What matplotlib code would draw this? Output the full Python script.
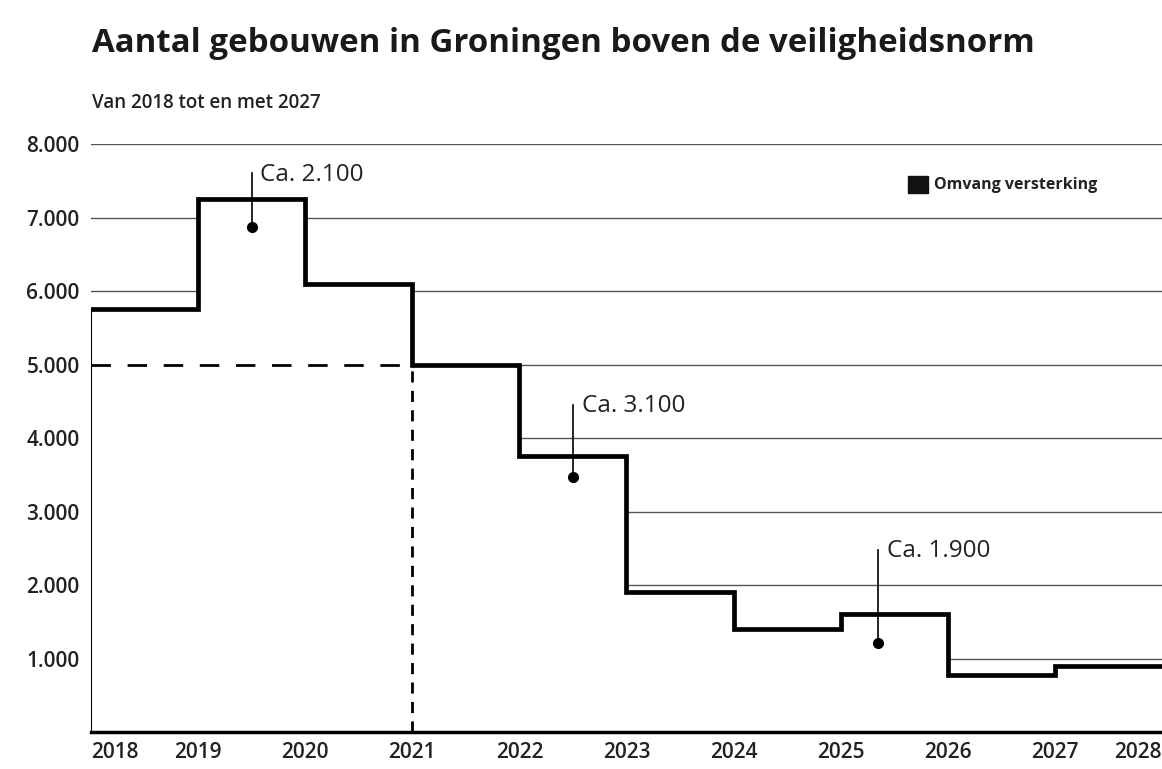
import matplotlib
matplotlib.use("Agg")
import matplotlib.pyplot as plt

plt.rcParams['font.family'] = ['Open Sans', 'DejaVu Sans']

# gebouwen boven de norm, per jaar (stapgrafiek)
years = [2018, 2019, 2020, 2021, 2022, 2023, 2024, 2025, 2026, 2027]
buildings = [5750, 7250, 6100, 5000, 3750, 1900, 1400, 1600, 780, 900]
end_year = 2028

# stippellijn (eerdere raming)
dash_years = [2018, 2021]
dash_values = [5000, 5000]

# annotaties: x, punt, top lijn, tekst
ann_x = [2019.5, 2022.5, 2025.35]
ann_dot = [6870, 3470, 1210]
ann_top = [7600, 4450, 2480]
ann_text = ['Ca. 2.100', 'Ca. 3.100', 'Ca. 1.900']

yticks = [1000, 2000, 3000, 4000, 5000, 6000, 7000, 8000]
ytick_labels = ['1.000', '2.000', '3.000', '4.000', '5.000', '6.000', '7.000', '8.000']
xticks = list(range(2018, 2029))

fig = plt.figure(figsize=(11.62, 7.69), dpi=100)
ax = fig.add_axes([0.0783, 0.0481, 0.9217, 0.7646])

xs = years + [end_year]
ys = buildings + [buildings[-1]]

# gridlines, hidden under the step area
for v in yticks:
    ax.axhline(v, color='#555555', lw=1, zorder=1)

ax.fill_between(xs, 0, ys, step='post', color='white', zorder=2)
ax.step(xs, ys, where='post', color='black', lw=3.4, zorder=4,
        solid_joinstyle='miter')
ax.plot([years[0], years[0]], [0, buildings[0]], color='black', lw=1.5, zorder=4)

ax.plot(dash_years, dash_values, color='black', lw=2, ls=(0, (7, 6)), zorder=3)
ax.plot([2021, 2021], [0, 5000], color='black', lw=2, ls=(0, (4, 3)), zorder=3)

for x, d, t, s in zip(ann_x, ann_dot, ann_top, ann_text):
    ax.plot([x, x], [d, t], color='black', lw=1.2, zorder=5)
    ax.plot(x, d, 'o', color='black', ms=7, zorder=5)
    ax.text(x + 0.08, t - 20, s, fontsize=17.5, color='#222222', va='center', ha='left', zorder=6)

ax.set_xlim(2018, end_year)
ax.set_ylim(0, 8000)
for sp in ['top', 'right', 'left']:
    ax.spines[sp].set_visible(False)
ax.spines['bottom'].set_linewidth(2.5)
ax.spines['bottom'].set_zorder(6)

ax.set_yticks(yticks)
ax.set_yticklabels(ytick_labels, fontsize=15, color='#222222', fontweight='semibold')
ax.set_xticks(xticks)
ax.set_xticklabels([str(y) for y in xticks], fontsize=15, color='#222222', fontweight='semibold')
ax.tick_params(length=0, pad=7)
ax.tick_params(axis='y', pad=8)
labels = ax.get_xticklabels()
labels[0].set_ha('left')
labels[-1].set_ha('right')

# legend
ax.add_patch(plt.Rectangle((0.7625, 0.917), 0.019, 0.028, transform=ax.transAxes,
                           color='#111111', clip_on=False, zorder=6))
ax.text(0.787, 0.930, 'Omvang versterking', transform=ax.transAxes, fontsize=11.5,
        fontweight='bold', color='#222222', va='center', ha='left')

fig.text(0.079, 0.943, 'Aantal gebouwen in Groningen boven de veiligheidsnorm',
         fontsize=23.8, fontweight='bold', color='#1a1a1a', va='center', ha='left')
fig.text(0.079, 0.866, 'Van 2018 tot en met 2027', fontsize=13.5, fontweight='semibold',
         color='#222222', va='center', ha='left')

fig.savefig('out.png', dpi=100)
